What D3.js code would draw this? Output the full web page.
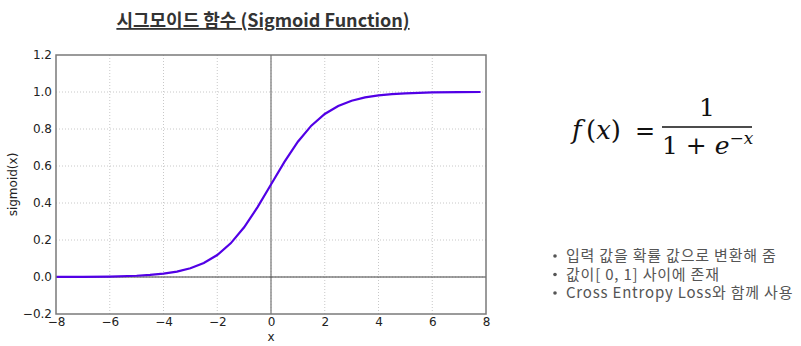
<!DOCTYPE html>
<html>
<head>
<meta charset="utf-8">
<script src="https://cdn.jsdelivr.net/npm/d3@7"></script>
<style>
  body { margin: 0; background: #fff; }
  svg { display: block; }
</style>
</head>
<body>
<div id="chart"></div>
<script>
// values
const xValues = [-8, -7, -6, -5, -4.5, -4, -3.5, -3, -2.5, -2, -1.5, -1, -0.5, 0, 0.5, 1, 1.5, 2, 2.5, 3, 3.5, 4, 4.5, 5, 6, 7, 7.8];
const yValues = [0.0003, 0.0009, 0.0025, 0.0067, 0.011, 0.018, 0.029, 0.047, 0.076, 0.119, 0.182, 0.269, 0.378, 0.5, 0.622, 0.731, 0.818, 0.881, 0.924, 0.953, 0.971, 0.982, 0.989, 0.993, 0.998, 0.999, 1.0];
const xTicks = [-8, -6, -4, -2, 0, 2, 4, 6, 8];
const yTicks = [-0.2, 0.0, 0.2, 0.4, 0.6, 0.8, 1.0, 1.2];
const bullets = ['입력 값을 확률 값으로 변환해 줌', '값이[ 0, 1] 사이에 존재', 'Cross Entropy Loss와 함께 사용'];

const width = 801, height = 346;
const margin = { left: 56, right: 315, top: 55, bottom: 32 };

const svg = d3.select('#chart').append('svg')
    .attr('width', width)
    .attr('height', height);

const x = d3.scaleLinear().domain([-8, 8]).range([margin.left, width - margin.right]);
const y = d3.scaleLinear().domain([-0.2, 1.2]).range([height - margin.bottom, margin.top]);

// grid
svg.append('g')
    .selectAll('line')
    .data(xTicks.slice(1, -1))
    .enter().append('line')
    .attr('x1', d => x(d)).attr('x2', d => x(d))
    .attr('y1', y(1.2)).attr('y2', y(-0.2))
    .attr('stroke', '#c8c8c8')
    .attr('stroke-dasharray', '1,2');
svg.append('g')
    .selectAll('line')
    .data(yTicks.slice(1, -1))
    .enter().append('line')
    .attr('x1', x(-8)).attr('x2', x(8))
    .attr('y1', d => y(d)).attr('y2', d => y(d))
    .attr('stroke', '#c8c8c8')
    .attr('stroke-dasharray', '1,2');

// zero lines
svg.append('line')
    .attr('x1', x(0)).attr('x2', x(0))
    .attr('y1', y(1.2)).attr('y2', y(-0.2))
    .attr('stroke', '#808080').attr('stroke-width', 1.3);
svg.append('line')
    .attr('x1', x(-8)).attr('x2', x(8))
    .attr('y1', y(0)).attr('y2', y(0))
    .attr('stroke', '#404040').attr('stroke-width', 1);

// curve
const pts = xValues.map((v, i) => [v, yValues[i]]);
svg.append('path')
    .datum(pts)
    .attr('fill', 'none')
    .attr('stroke', '#5200e6')
    .attr('stroke-width', 2.2)
    .attr('d', d3.line().x(d => x(d[0])).y(d => y(d[1])));

// frame
svg.append('rect')
    .attr('x', x(-8)).attr('y', y(1.2))
    .attr('width', x(8) - x(-8)).attr('height', y(-0.2) - y(1.2))
    .attr('fill', 'none')
    .attr('stroke', '#7a7a7a').attr('stroke-width', 1.5);

// axes
const xAxis = svg.append('g')
    .attr('transform', `translate(0,${y(-0.2)})`)
    .call(d3.axisBottom(x).tickValues(xTicks).tickSize(0).tickPadding(3)
        .tickFormat(d => d3.format('d')(d).replace('-', '\u2212')));
const yAxis = svg.append('g')
    .attr('transform', `translate(${x(-8)},0)`)
    .call(d3.axisLeft(y).tickValues(yTicks).tickSize(0).tickPadding(4)
        .tickFormat(d => d3.format('.1f')(d).replace('-', '\u2212')));
[xAxis, yAxis].forEach(a => {
    a.select('.domain').remove();
    a.selectAll('text')
        .attr('font-family', 'DejaVu Sans, sans-serif')
        .attr('font-size', 12)
        .attr('fill', '#222');
});

svg.append('text')
    .attr('x', x(0)).attr('y', 341)
    .attr('text-anchor', 'middle')
    .attr('font-family', 'DejaVu Sans, sans-serif')
    .attr('font-size', 12)
    .attr('fill', '#222')
    .text('x');

svg.append('text')
    .attr('transform', `translate(17,${y(0.5)}) rotate(-90)`)
    .attr('text-anchor', 'middle')
    .attr('font-family', 'DejaVu Sans, sans-serif')
    .attr('font-size', 12)
    .attr('fill', '#222')
    .text('sigmoid(x)');

// title
svg.append('text')
    .attr('x', 263).attr('y', 27)
    .attr('text-anchor', 'middle')
    .attr('font-family', 'Noto Sans CJK KR, sans-serif')
    .attr('font-size', 18)
    .attr('font-weight', 'bold')
    .attr('text-decoration', 'underline')
    .attr('fill', '#333')
    .text('시그모이드 함수 (Sigmoid Function)');

// formula
const fml = svg.append('g')
    .attr('font-family', 'DejaVu Serif, serif')
    .attr('fill', '#111');
fml.append('text')
    .attr('x', 572).attr('y', 139)
    .attr('font-size', 26)
    .attr('font-style', 'italic')
    .text('f');
fml.append('text')
    .attr('x', 586).attr('y', 139)
    .attr('font-size', 26)
    .html('(<tspan font-style="italic">x</tspan>)');
fml.append('text')
    .attr('x', 635).attr('y', 139)
    .attr('font-size', 24)
    .text('=');
fml.append('line')
    .attr('x1', 662).attr('x2', 752)
    .attr('y1', 127).attr('y2', 127)
    .attr('stroke', '#111').attr('stroke-width', 1.5);
fml.append('text')
    .attr('x', 707).attr('y', 116)
    .attr('text-anchor', 'middle')
    .attr('font-size', 25)
    .text('1');
fml.append('text')
    .attr('x', 662).attr('y', 154)
    .attr('font-size', 25)
    .html('1 + <tspan font-style="italic">e</tspan><tspan dy="-10" font-size="17">\u2212<tspan font-style="italic">x</tspan></tspan>');

// bullets
const bl = svg.append('g')
    .attr('font-family', 'Noto Sans CJK KR, sans-serif')
    .attr('font-size', 15)
    .attr('letter-spacing', 0.8)
    .attr('fill', '#555');
bullets.forEach((t, i) => {
    bl.append('circle')
        .attr('cx', 555).attr('cy', 256 + i * 18.5)
        .attr('r', 1.8)
        .attr('fill', '#555');
    bl.append('text')
        .attr('x', 566).attr('y', 261 + i * 18.5)
        .text(t);
});
</script>
</body>
</html>
